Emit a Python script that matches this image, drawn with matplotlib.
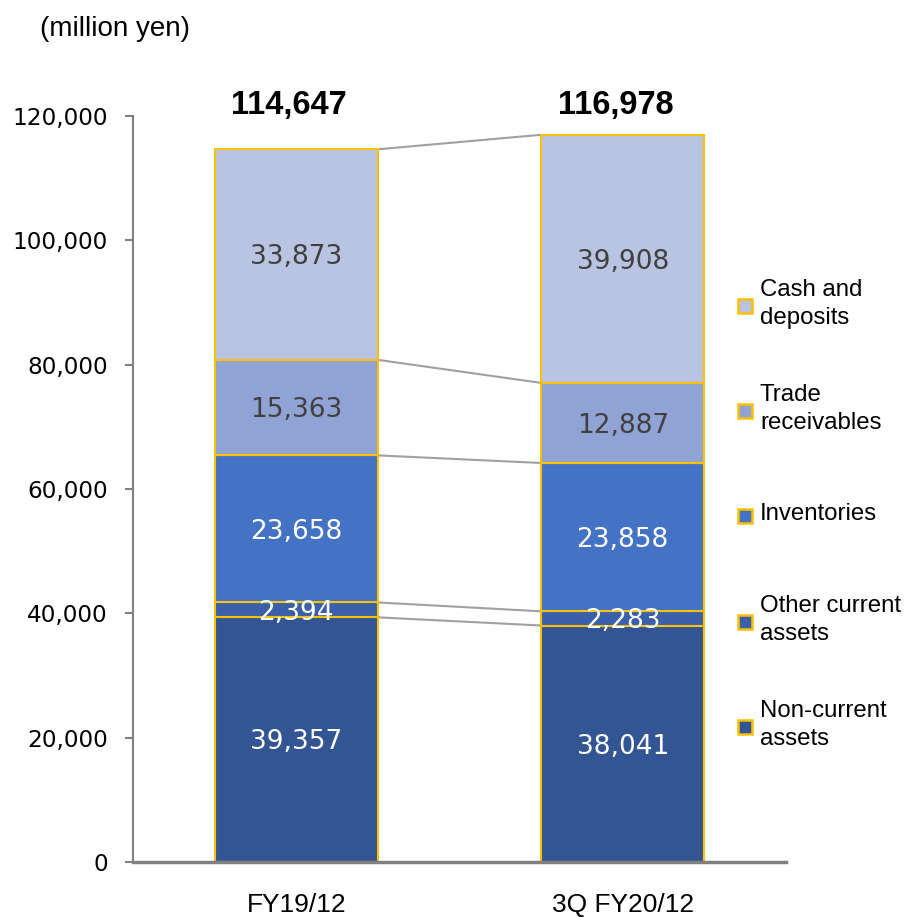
import matplotlib
matplotlib.use("Agg")
import matplotlib.pyplot as plt
from matplotlib.patches import Rectangle
import numpy as np

categories = ["FY19/12", "3Q FY20/12"]
series_names = ["Non-current\nassets", "Other current\nassets", "Inventories",
                "Trade\nreceivables", "Cash and\ndeposits"]
non_current = [39357, 38041]
other_current = [2394, 2283]
inventories = [23658, 23858]
trade_receivables = [15363, 12887]
cash_deposits = [33873, 39908]
totals = [114647, 116978]
yticks = [0, 20000, 40000, 60000, 80000, 100000, 120000]

series = [non_current, other_current, inventories, trade_receivables, cash_deposits]
colors = ["#335593", "#3A60AA", "#4472C4", "#8FA3D5", "#B9C3E2"]
text_colors = ["white", "white", "white", "#404040", "#404040"]
edge = "#FFC000"

fig = plt.figure(figsize=(9.06, 9.17), dpi=100)
W, H = 906, 917
ax = fig.add_axes([133 / W, 1 - 862 / H, (786 - 133) / W, (862 - 116) / H])

x = np.arange(len(categories))
bw = 0.5
bottom = np.zeros(len(categories))
tops = []
for vals, c, tc in zip(series, colors, text_colors):
    vals = np.array(vals, dtype=float)
    ax.bar(x, vals, bw, bottom=bottom, color=c, edgecolor=edge, linewidth=1.5, zorder=3)
    for xi, b, v in zip(x, bottom, vals):
        ax.annotate(f"{int(v):,}", xy=(xi, b + v / 2), xytext=(0, -2),
                    textcoords="offset points", ha="center", va="center",
                    fontsize=19, color=tc, family="DejaVu Sans", zorder=5)
    bottom = bottom + vals
    tops.append(bottom.copy())

# connector lines between segment tops
for t in tops:
    ax.plot([x[0] + bw / 2, x[1] - bw / 2], [t[0], t[1]], color="#A0A0A0",
            linewidth=1.5, zorder=2, solid_capstyle="butt")

for xi, tot in zip(x, totals):
    ax.annotate(f"{tot:,}", xy=(xi, 122000), xytext=(-5, -1.5),
                textcoords="offset points", ha="center", va="center", fontsize=23.5,
                fontweight="bold", family="Liberation Sans", annotation_clip=False)

ax.set_xlim(-0.5, 1.5)
ax.set_ylim(0, 120000)
ax.set_yticks(yticks)
ax.set_yticklabels([f"{v:,}" for v in yticks], family="DejaVu Sans", fontsize=16.7)
ax.set_xticks(x)
ax.set_xticklabels(categories, family="Liberation Sans", fontsize=19)
ax.tick_params(axis="x", length=0, pad=22)
ax.tick_params(axis="y", length=6, width=1.5, color="#808080", pad=12)
for s in ["top", "right"]:
    ax.spines[s].set_visible(False)
ax.spines["left"].set_color("#808080")
ax.spines["left"].set_linewidth(1.5)
ax.spines["bottom"].set_color("#808080")
ax.spines["bottom"].set_linewidth(2.5)
ax.spines["bottom"].set_zorder(4)

fig.text(40 / W, 1 - 29 / H, "(million yen)", ha="left", va="center",
         fontsize=20, family="Liberation Sans")

# legend (top to bottom: cash ... non-current)
leg_y = [306, 411, 516, 622, 727]
for name, c, yy in zip(series_names[::-1], colors[::-1], leg_y):
    fig.add_artist(Rectangle(((745 - 7) / W, 1 - (yy + 7) / H), 14 / W, 14 / H,
                             facecolor=c, edgecolor=edge, linewidth=1.8,
                             transform=fig.transFigure))
    fig.text(760 / W, 1 - (yy - 2) / H, name, ha="left", va="center", fontsize=17.3,
             family="Liberation Sans", linespacing=1.3)

fig.savefig("out.png", dpi=100)
